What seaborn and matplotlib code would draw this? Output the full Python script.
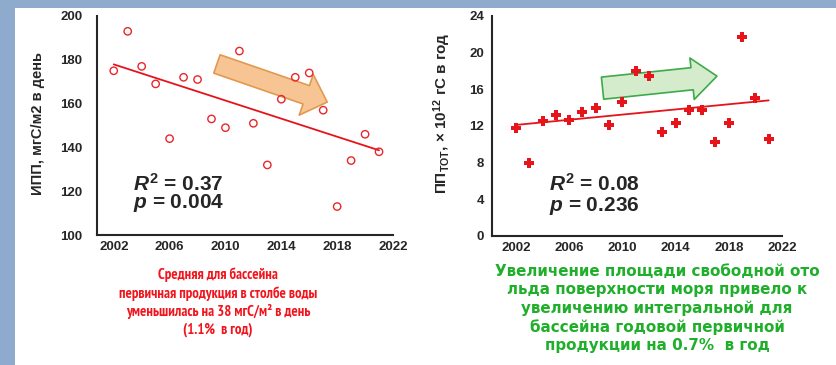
import numpy as np
import pandas as pd
import matplotlib
matplotlib.use("Agg")
import matplotlib.pyplot as plt
from matplotlib import font_manager as fm
import seaborn as sns
from matplotlib.ticker import FixedLocator
from matplotlib.patches import FancyArrowPatch, Rectangle, ArrowStyle

# ---------------- data ----------------
years = list(range(2002, 2022))
ipp = [175, 193, 177, 169, 144, 172, 171, 153, 149, 184,
       151, 132, 162, 172, 174, 157, 113, 134, 146, 138]
pp_tot = [11.8, 8.0, 12.6, 13.2, 12.7, 13.5, 14.0, 12.1, 14.6, 18.0,
          17.5, 11.3, 12.3, 13.7, 13.8, 10.3, 12.3, 21.7, 15.1, 10.6]
left_yticks = [100, 120, 140, 160, 180, 200]
right_yticks = [0, 4, 8, 12, 16, 20, 24]
xtick_labels = [2002, 2006, 2010, 2014, 2018, 2022]
left_ylabel = "ИПП, мгС/м2 в день"
right_ylabel = r"ПП$_{\mathrm{ТОТ}}$, × 10$^{12}$ гС в год"
left_stats = [r"$R^2$ = 0.37", r"$p$ = 0.004"]
right_stats = [r"$R^2$ = 0.08", r"$p$ = 0.236"]
red_caption = ("Средняя для бассейна\nпервичная продукция в столбе воды\n"
               "уменьшилась на 38 мгС/м² в день\n(1.1%  в год)")
green_caption = ("Увеличение площади свободной ото\nльда поверхности моря привело к\n"
                 "увеличению интегральной для\nбассейна годовой первичной\n"
                 "продукции на 0.7%  в год")

# ---------------- style ----------------
sns.set_style("white")
plt.rcParams.update({
    "font.family": ["Liberation Sans", "DejaVu Sans"],
    "font.weight": "bold",
    "mathtext.fontset": "custom",
    "mathtext.rm": "Liberation Sans:bold",
    "mathtext.it": "Liberation Sans:italic:bold",
    "mathtext.bf": "Liberation Sans:bold",
    "axes.linewidth": 1.5,
})

installed = {f.name for f in fm.fontManager.ttflist}
narrow = [n for n in ["PT Sans Narrow", "Roboto Condensed", "Liberation Sans Narrow",
                      "Archivo Narrow"] if n in installed]
red_family = narrow[:1] + ["Liberation Sans", "DejaVu Sans"]

W, H = 836, 365
fig = plt.figure(figsize=(W / 100, H / 100), dpi=100, facecolor="#8EAACC")
fig.add_artist(Rectangle((15 / W, 0), 1 - 15 / W, 1 - 8 / H, transform=fig.transFigure,
                         facecolor="white", edgecolor="none", zorder=-10))

RED = "#E8262C"


def style_axis(ax, xlim, ylim, yticks, yminor, xminor, ylen, ypad):
    ax.set_facecolor("none")
    ax.set_xlim(*xlim)
    ax.set_ylim(*ylim)
    ax.set_yticks(yticks)
    ax.yaxis.set_minor_locator(FixedLocator(yminor))
    ax.set_xticks(xtick_labels)
    ax.xaxis.set_minor_locator(FixedLocator(xminor))
    ax.tick_params(axis="y", which="both", direction="out", length=ylen, width=1.3,
                   pad=ypad, labelsize=9.5)
    ax.tick_params(axis="x", which="both", direction="in", length=4.5, width=1.3,
                   pad=4.0, labelsize=9.5)
    sns.despine(ax=ax)
    ax.set_xlabel("")


# ---------------- left panel ----------------
ax1 = fig.add_axes([97 / W, 1 - 235 / H, 296 / W, 219 / H])
df1 = pd.DataFrame({"year": years, "ipp": ipp})
sns.regplot(data=df1, x="year", y="ipp", ax=ax1, ci=None, marker="o",
            scatter_kws=dict(s=28, facecolors="none", edgecolors=RED, linewidths=1.0,
                             alpha=1, zorder=3),
            line_kws=dict(color="#E5141B", lw=1.3, zorder=2))
style_axis(ax1, (2000.8, 2022.0), (100, 200), left_yticks,
           list(range(100, 201, 10)), list(range(2002, 2023)), 6.5, 4.0)
ax1.set_ylabel(left_ylabel, fontsize=10.5, fontweight="bold")
ax1.yaxis.set_label_coords(-0.176, 0.51)
ax1.add_patch(FancyArrowPatch((2009.39, 178.1), (2017.29, 160.7),
                              arrowstyle=ArrowStyle.Simple(head_length=1.6, head_width=3.1,
                                                           tail_width=1.4),
                              mutation_scale=10, shrinkA=0, shrinkB=0,
                              fc="#F7C594", ec="#E2994F", lw=1.2, zorder=2.5))
ax1.text(2003.35, 120.4, left_stats[0], fontsize=15, ha="left", va="baseline")
ax1.text(2003.35, 112.2, left_stats[1], fontsize=15, ha="left", va="baseline")

# ---------------- right panel ----------------
ax2 = fig.add_axes([492 / W, 1 - 236 / H, 290 / W, 220 / H])
df2 = pd.DataFrame({"year": years, "pp": pp_tot})
sns.regplot(data=df2, x="year", y="pp", ax=ax2, ci=None, marker="P",
            scatter_kws=dict(s=44, color="#E8141B", linewidths=0, alpha=1, zorder=3),
            line_kws=dict(color="#E5141B", lw=1.3, zorder=2))
style_axis(ax2, (2000.2, 2022.0), (0, 24), right_yticks,
           list(range(0, 25, 2)), list(range(2001, 2023)), 4.0, 1.5)
ax2.set_ylabel(right_ylabel, fontsize=11, fontweight="bold")
ax2.yaxis.set_label_coords(-0.134, 0.56)
ax2.add_patch(FancyArrowPatch((2008.51, 16.13), (2017.11, 17.44),
                              arrowstyle=ArrowStyle.Simple(head_length=1.8, head_width=3.0,
                                                           tail_width=1.6),
                              mutation_scale=10, shrinkA=0, shrinkB=0,
                              fc="#D5ECCC", ec="#3DAA4A", lw=1.2, zorder=2.5))
ax2.text(2004.47, 4.9, right_stats[0], fontsize=15, ha="left", va="baseline")
ax2.text(2004.47, 2.72, right_stats[1], fontsize=15, ha="left", va="baseline")

# ---------------- captions ----------------
t_red = fig.text(218 / W, 1 - 302.5 / H, red_caption, ha="center", va="center",
                 color="#F2141C", fontsize=10, fontweight="bold", family=red_family,
                 linespacing=1.0)
t_green = fig.text(657 / W, 1 - 308.5 / H, green_caption, ha="center", va="center",
                   color="#1FAF2A", fontsize=10.8, fontweight="bold",
                   family=["DejaVu Sans"], linespacing=1.0)


def fit_block(t, target_w, target_gap, nlines, max_size):
    r = fig.canvas.get_renderer()
    w = t.get_window_extent(r).width
    t.set_fontsize(min(max_size, t.get_fontsize() * target_w / w))
    t.set_linespacing(1.0)
    h1 = t.get_window_extent(r).height
    t.set_linespacing(2.0)
    h2 = t.get_window_extent(r).height
    unit = (h2 - h1) / (nlines - 1)
    # empirical calibration of the measured gap against the rendered one
    t.set_linespacing(max(0.8, 0.845 * target_gap / unit))


fit_block(t_red, 200, 18.0, 4, 11.5)
fit_block(t_green, 325, 18.2, 5, 11.5)

fig.savefig("out.png", dpi=100, facecolor=fig.get_facecolor())
